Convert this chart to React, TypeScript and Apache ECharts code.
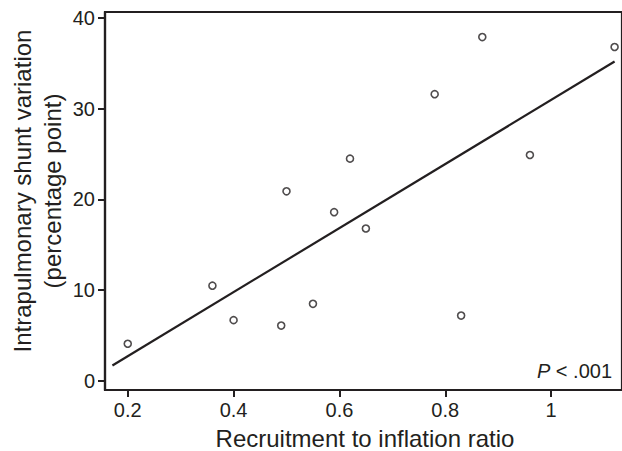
import React, { useEffect, useRef } from "react";
import * as echarts from "echarts";

const recruitmentRatio = [0.2, 0.36, 0.4, 0.49, 0.55, 0.59, 0.65, 0.5, 0.62, 0.87, 1.12, 0.78, 0.96, 0.83];
const shuntVariation = [4.1, 10.5, 6.7, 6.1, 8.5, 18.6, 16.8, 20.9, 24.5, 37.9, 36.8, 31.6, 24.9, 7.2];
const fitX = [0.171, 1.12];
const fitY = [1.7, 35.2];
const xTicks = [0.2, 0.4, 0.6, 0.8, 1];
const yTicks = [0, 10, 20, 30, 40];
const xTitle = "Recruitment to inflation ratio";
const yTitleLines = ["Intrapulmonary shunt variation", "(percentage point)"];
const pText = ["P", " < .001"];

const INK = "#231f20";
const FONT = "'Liberation Sans', Arial, Helvetica, sans-serif";

export default function App() {
  const ref = useRef<HTMLDivElement>(null);
  useEffect(() => {
    if (!ref.current) return;
    const chart = echarts.init(ref.current, undefined, { renderer: "svg" });
    chart.setOption({
      animation: false,
      backgroundColor: "#ffffff",
      grid: {
        left: 105,
        right: -2,
        top: 12,
        bottom: 61,
        show: true,
        borderColor: INK,
        borderWidth: 2.2,
        backgroundColor: "transparent",
      },
      xAxis: {
        type: "value",
        min: 0.157,
        max: 1.134,
        splitLine: { show: false },
        axisLine: { show: true, onZero: false, lineStyle: { color: INK, width: 2.2 } },
        axisTick: { show: true, length: 7, customValues: xTicks, lineStyle: { color: INK, width: 2 } },
        axisLabel: {
          customValues: xTicks,
          margin: 10,
          color: INK,
          fontSize: 20,
          fontFamily: FONT,
          formatter: (v: number) => String(v),
        },
      },
      yAxis: {
        type: "value",
        min: -1,
        max: 40.66,
        splitLine: { show: false },
        axisLine: { show: true, onZero: false, lineStyle: { color: INK, width: 2.2 } },
        axisTick: { show: true, length: 7, customValues: yTicks, lineStyle: { color: INK, width: 2 } },
        axisLabel: {
          customValues: yTicks,
          margin: 10,
          color: INK,
          fontSize: 20,
          fontFamily: FONT,
        },
      },
      graphic: [
        {
          type: "text",
          x: 365,
          y: 438,
          style: {
            text: xTitle,
            fill: INK,
            font: `24px ${FONT}`,
            textAlign: "center",
            textVerticalAlign: "middle",
          },
        },
        {
          type: "text",
          x: 37,
          y: 191,
          rotation: Math.PI / 2,
          style: {
            text: yTitleLines.join("\n"),
            fill: INK,
            font: `24px ${FONT}`,
            lineHeight: 30,
            textAlign: "center",
            textVerticalAlign: "middle",
          },
        },
        {
          type: "text",
          x: 612,
          y: 371,
          style: {
            text: `{i|${pText[0]}}{n|${pText[1]}}`,
            rich: {
              i: { fontStyle: "italic", fontSize: 20, fontFamily: FONT, fill: INK },
              n: { fontSize: 20, fontFamily: FONT, fill: INK },
            },
            fill: INK,
            textAlign: "right",
            textVerticalAlign: "middle",
          },
        },
      ],
      series: [
        {
          type: "line",
          data: fitX.map((x, i) => [x, fitY[i]]),
          symbol: "none",
          lineStyle: { color: INK, width: 2.2 },
          silent: true,
        },
        {
          type: "scatter",
          data: recruitmentRatio.map((x, i) => [x, shuntVariation[i]]),
          symbol: "circle",
          symbolSize: 7,
          itemStyle: { color: "#ffffff", borderColor: INK, borderWidth: 1.6 },
        },
      ],
    });
    return () => chart.dispose();
  }, []);
  return (
    <div
      ref={ref}
      style={{ position: "absolute", left: 0, top: 0, width: 622, height: 451 }}
    />
  );
}
